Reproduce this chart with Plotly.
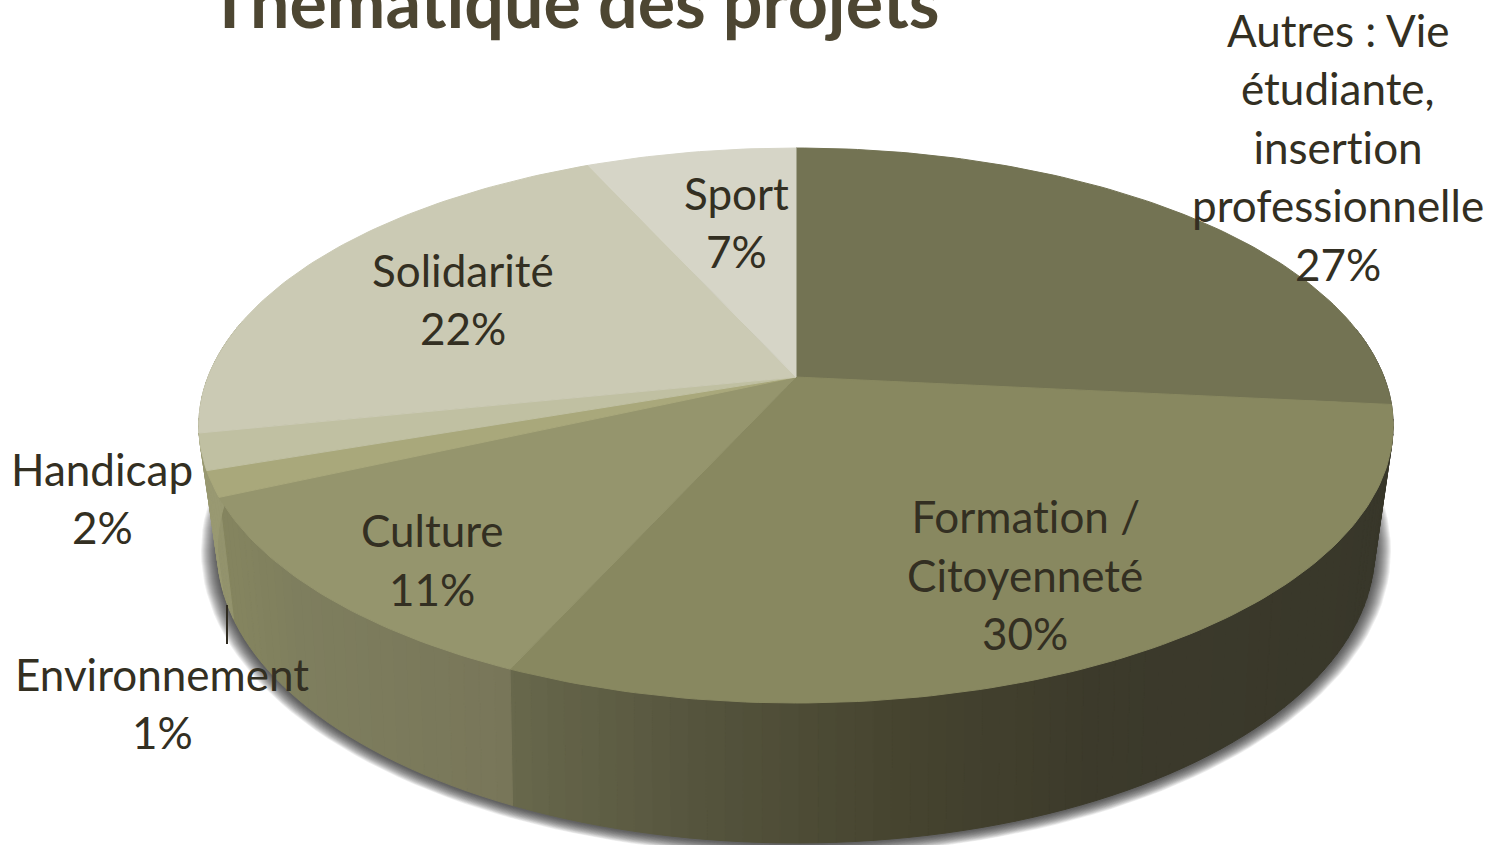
import math
import plotly.graph_objects as go

# ---- data (clockwise from 12 o'clock)
categories = ["Autres", "Formation / Citoyenneté", "Culture", "Environnement", "Handicap", "Solidarité", "Sport"]
values = [26.6, 30.1, 11.49, 1.49, 2.1, 21.5, 6.72]
top_colors = ["#737353", "#888860", "#95956d", "#a9a87b", "#c0c0a2", "#cbcab4", "#d6d5c7"]

label_lines = [
    ["Autres : Vie", "étudiante,", "insertion", "professionnelle", "27%"],
    ["Formation /", "Citoyenneté", "30%"],
    ["Culture", "11%"],
    ["Environnement", "1%"],
    ["Handicap", "2%"],
    ["Solidarité", "22%"],
    ["Sport", "7%"],
]
label_x = [1338, 1025, 432, 162, 102, 463, 736]
label_y0 = [29.5, 516, 530, 673.5, 468.5, 269.5, 192.5]
LINE_H = 58.6
title_text = "Thématique des projets"

wall_stops = [
    [(1100, "#38372a"), (1392, "#38372a")],
    [(510, "#68684c"), (700, "#55543d"), (900, "#46442f"), (1100, "#3c3a2b"), (1392, "#38372a")],
    [(218, "#85855f"), (300, "#7e7e5e"), (510, "#787659")],
    [(200, "#93936d"), (230, "#93936d")],
    [(200, "#999972"), (230, "#999972")],
    [(190, "#999972"), (230, "#999972")],
    [(190, "#999972"), (230, "#999972")],
]

# ---- projection of the tilted disc
CX = 796
def project(theta, r, a, b, c, R):
    u, v = r * math.sin(theta), r * math.cos(theta)
    w = c * v + 1
    return CX + R * u / w, (a * v + b) / w

TOP = dict(a=-203.1, b=377, c=0.1748, R=588)
BOT = dict(a=-183, b=491.4, c=0.2, R=567)

def hex2rgb(h):
    return tuple(int(h[i:i + 2], 16) for i in (1, 3, 5))

def color_at(stops, x):
    if x <= stops[0][0]:
        return stops[0][1]
    for (x0, c0), (x1, c1) in zip(stops, stops[1:]):
        if x <= x1:
            t = (x - x0) / (x1 - x0)
            a, b = hex2rgb(c0), hex2rgb(c1)
            return "#%02x%02x%02x" % tuple(round(a[i] + (b[i] - a[i]) * t) for i in range(3))
    return stops[-1][1]

total = sum(values)
edges = [0.0]
for val in values:
    edges.append(edges[-1] + val / total * 2 * math.pi)

fig = go.Figure()

def poly(xs, ys, color):
    fig.add_trace(go.Scatter(x=xs, y=ys, mode="lines", fill="toself", fillcolor=color,
                             line=dict(color=color, width=1), hoverinfo="skip", showlegend=False))

# soft shadow round the base
for k in range(16, 0, -1):
    xs, ys = [], []
    for d in range(0, 361, 2):
        t = math.radians(d)
        xs.append(CX + (579 + k) * math.cos(t))
        ys.append(551 + (293 + k * 0.7) * math.sin(t))
    fig.add_trace(go.Scatter(x=xs, y=ys, mode="lines", fill="toself",
                             fillcolor="rgba(45,45,45,0.075)", line=dict(width=0),
                             hoverinfo="skip", showlegend=False))

# side wall, drawn slice by slice in thin strips
STEP = math.radians(1.5)
for i in range(len(values)):
    t0, t1 = edges[i], edges[i + 1]
    t = t0
    while t < t1:
        e = min(t + STEP, t1)
        deg = math.degrees((t + e) / 2)
        if 80 < deg < 282:
            p1 = project(t, 1, **TOP); p2 = project(e, 1, **TOP)
            p3 = project(e, 1, **BOT); p4 = project(t, 1, **BOT)
            col = color_at(wall_stops[i], (p1[0] + p2[0]) / 2)
            poly([p1[0], p2[0], p3[0], p4[0], p1[0]], [p1[1], p2[1], p3[1], p4[1], p1[1]], col)
        t = e

# top face
for i in range(len(values)):
    n = max(3, int((edges[i + 1] - edges[i]) / math.radians(1)))
    pts = [project(0, 0, **TOP)]
    for j in range(n + 1):
        pts.append(project(edges[i] + (edges[i + 1] - edges[i]) * j / n, 1, **TOP))
    pts.append(pts[0])
    poly([p[0] for p in pts], [p[1] for p in pts], top_colors[i])

# leader line of the Environnement label
fig.add_trace(go.Scatter(x=[227, 227], y=[605, 644], mode="lines",
                         line=dict(color="#2f2b20", width=2), hoverinfo="skip", showlegend=False))

ann = []
for lines, lx, ly in zip(label_lines, label_x, label_y0):
    for n, line in enumerate(lines):
        ann.append(dict(x=lx, y=ly + n * LINE_H, text=line, showarrow=False, xanchor="center",
                        yanchor="middle", font=dict(family="Lato", size=44, color="#332f22")))
ann.append(dict(x=574, y=1, text="<b>%s</b>" % title_text, showarrow=False, xanchor="center", yanchor="middle",
                font=dict(family="Lato", size=70, color="#4d4632")))

fig.update_layout(
    width=1492, height=845, margin=dict(l=0, r=0, t=0, b=0),
    paper_bgcolor="white", plot_bgcolor="white", annotations=ann,
    xaxis=dict(range=[0, 1492], visible=False, fixedrange=True),
    yaxis=dict(range=[845, 0], visible=False, fixedrange=True),
)
fig.write_html("out.html", config={"displayModeBar": False},
               post_script="document.body.style.margin='0';document.body.style.overflow='hidden';"
                           "var s=document.createElement('style');"
                           "s.textContent='text{font-variant-ligatures:none !important;font-feature-settings:\"liga\" 0 !important;}';"
                           "document.head.appendChild(s);")
